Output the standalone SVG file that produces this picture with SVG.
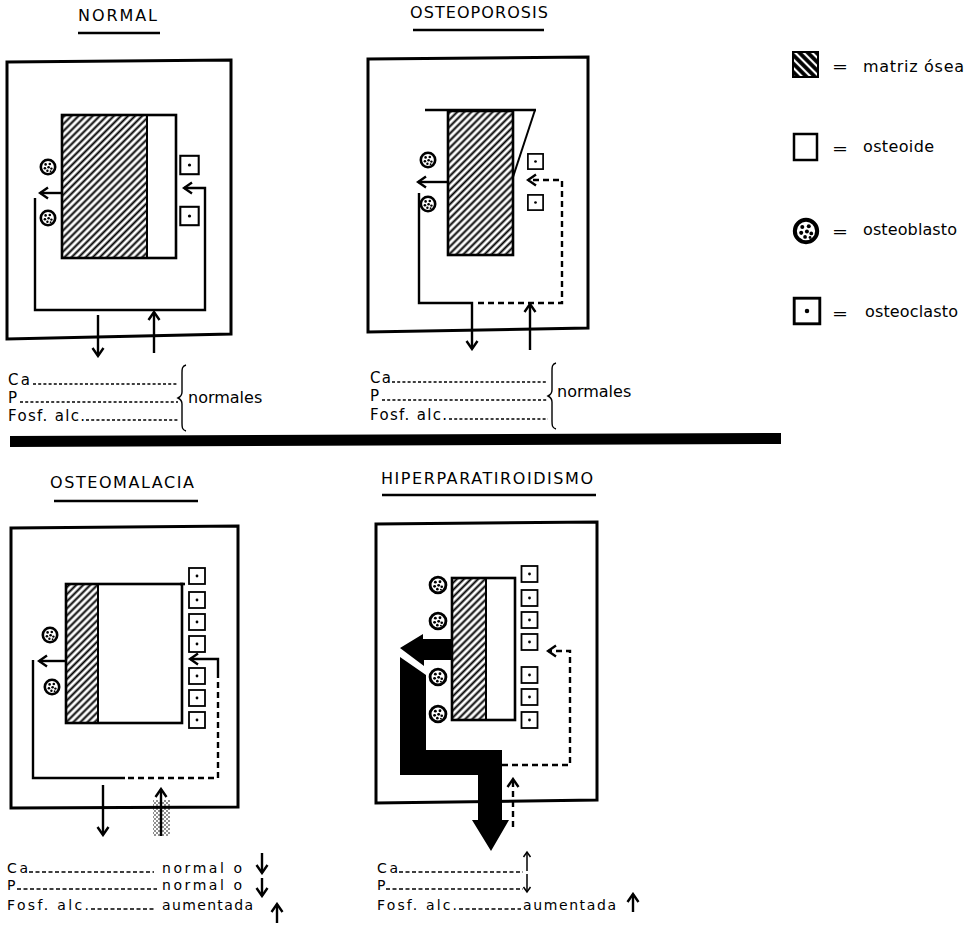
<svg xmlns="http://www.w3.org/2000/svg" width="973" height="925" viewBox="0 0 973 925">
<style>
.t{font-family:"DejaVu Sans",sans-serif;font-size:16px;fill:#000}
.tr{font-family:"DejaVu Sans",sans-serif;font-size:15px;fill:#000}
.tb{font-family:"DejaVu Sans",sans-serif;font-size:14px;fill:#000}
.ti{font-family:"DejaVu Sans",sans-serif;font-size:16px;fill:#000}
.ln{fill:none;stroke:#000;stroke-width:2.4;stroke-linejoin:miter}
.thin{fill:none;stroke:#000;stroke-width:1.5}
.ds{stroke-dasharray:6 4}
.box{fill:none;stroke:#000;stroke-width:3;stroke-linejoin:miter}
.ul{stroke:#000;stroke-width:2.4}
.dot{fill:none;stroke:#000;stroke-width:1.3;stroke-dasharray:3 2.2}
.dot2{fill:none;stroke:#000;stroke-width:1.4;stroke-dasharray:4 2.5}
.bone{fill:url(#hatch)}
.out{fill:none;stroke:#000;stroke-width:2.6}
</style>
<defs>
<pattern id="hatch" patternUnits="userSpaceOnUse" width="5" height="5" patternTransform="rotate(45)">
<rect width="5" height="5" fill="#fff"/>
<line x1="2.5" y1="-1" x2="2.5" y2="6" stroke="#000" stroke-width="2"/>
</pattern>
<pattern id="hatchL" patternUnits="userSpaceOnUse" width="6" height="6" patternTransform="rotate(-45)">
<rect width="6" height="6" fill="#000"/>
<line x1="3" y1="-1" x2="3" y2="7" stroke="#fff" stroke-width="2.2"/>
</pattern>
<pattern id="stip" patternUnits="userSpaceOnUse" width="4" height="4">
<circle cx="1" cy="1" r="0.8" fill="#000"/>
<circle cx="3" cy="3" r="0.8" fill="#000"/>
</pattern>
<marker id="ah" viewBox="-10 -7 12 14" refX="0" refY="0" markerWidth="12" markerHeight="14" markerUnits="userSpaceOnUse" orient="auto">
<path d="M-8,-5.5 L0,0 L-8,5.5" fill="none" stroke="#000" stroke-width="2.4" stroke-dasharray="none"/>
</marker>
<marker id="ahs" viewBox="-7 -5 9 10" refX="0" refY="0" markerWidth="9" markerHeight="10" markerUnits="userSpaceOnUse" orient="auto">
<path d="M-5,-3.5 L0,0 L-5,3.5" fill="none" stroke="#000" stroke-width="1.5" stroke-dasharray="none"/>
</marker>
<g id="ob">
<circle r="7.2" fill="#fff" stroke="#000" stroke-width="2.6"/>
<g fill="#000">
<circle cx="-2.4" cy="-2.6" r="1.3"/><circle cx="1.8" cy="-3" r="1.3"/><circle cx="-3.1" cy="1.2" r="1.3"/>
<circle cx="0.6" cy="0.3" r="1.3"/><circle cx="3.4" cy="1.6" r="1.2"/><circle cx="-0.6" cy="3.8" r="1.2"/><circle cx="2.6" cy="4.2" r="0.9"/>
</g>
</g>
<g id="oc">
<rect x="-8" y="-8" width="16" height="16" fill="#fff" stroke="#000" stroke-width="1.8"/>
<circle r="1.4" fill="#000"/>
</g>
<path id="brace" d="M8,0 C4,1 4,4 4,8 L4,27 C4,30 2,32 0,33 C2,34 4,36 4,39 L4,58 C4,62 4,65 8,66" fill="none" stroke="#000" stroke-width="1.4"/>
</defs>

<rect width="973" height="925" fill="#fff"/>

<!-- ===== NORMAL ===== -->
<g id="normal-title">
<text class="ti" x="78" y="21" textLength="79" lengthAdjust="spacing">NORMAL</text>
<line class="ul" x1="78" y1="33" x2="160" y2="33"/>
</g>
<g id="normal-box"><polygon class="box" points="7,62 231,60 231,334 7,339"/></g>
<g id="normal-bone">
<rect class="bone" x="62" y="115" width="85" height="143"/>
<rect x="147" y="115" width="29" height="143" fill="#fff"/>
<rect class="out" x="62" y="115" width="114" height="143"/>
<line x1="147" y1="115" x2="147" y2="258" stroke="#000" stroke-width="2"/>
</g>
<g id="normal-osteoblasts">
<use href="#ob" transform="translate(48,167)"/>
<use href="#ob" transform="translate(48,218)"/>
</g>
<g id="normal-osteoclasts">
<use href="#oc" transform="translate(189.5,165) scale(1.15)"/>
<use href="#oc" transform="translate(189.5,216) scale(1.15)"/>
</g>
<g id="normal-labels">
<text class="tr" x="8" y="385" textLength="22" lengthAdjust="spacing">Ca</text>
<text class="tr" x="8" y="403">P</text>
<text class="tr" x="8" y="421" textLength="77" lengthAdjust="spacing">Fosf. alc.</text>
<text class="t" x="188" y="403">normales</text>
<line class="dot" x1="33" y1="384" x2="178" y2="384"/>
<line class="dot" x1="20" y1="402" x2="178" y2="402"/>
<line class="dot" x1="86" y1="420" x2="178" y2="420"/>
<use href="#brace" transform="translate(178,365)"/>
</g>

<!-- ===== OSTEOPOROSIS ===== -->
<g id="osteoporosis-title">
<text class="ti" x="410" y="18" textLength="138" lengthAdjust="spacing">OSTEOPOROSIS</text>
<line class="ul" x1="413" y1="30" x2="544" y2="30"/>
</g>
<g id="osteoporosis-box"><polygon class="box" points="368,59 588,57 588,328 368,332"/></g>
<g id="osteoporosis-bone">
<rect class="bone" x="448" y="111" width="65" height="144"/>
<rect class="out" x="448" y="111" width="65" height="144"/>
<line x1="425" y1="110" x2="536" y2="110" stroke="#000" stroke-width="2.6"/>
<line x1="535" y1="110" x2="513" y2="177" stroke="#000" stroke-width="2"/>
</g>
<g id="osteoporosis-osteoblasts">
<use href="#ob" transform="translate(428,160)"/>
<use href="#ob" transform="translate(428,204)"/>
</g>
<g id="osteoporosis-osteoclasts">
<use href="#oc" transform="translate(535.5,161.5) scale(0.95)"/>
<use href="#oc" transform="translate(535.5,202.5) scale(0.95)"/>
</g>
<g id="osteoporosis-labels">
<text class="tr" x="370" y="383" textLength="21" lengthAdjust="spacing">Ca</text>
<text class="tr" x="370" y="401">P</text>
<text class="tr" x="370" y="420" textLength="77" lengthAdjust="spacing">Fosf. alc.</text>
<text class="t" x="557" y="397">normales</text>
<line class="dot" x1="392" y1="382" x2="548" y2="382"/>
<line class="dot" x1="382" y1="400" x2="548" y2="400"/>
<line class="dot" x1="449" y1="419" x2="548" y2="419"/>
<use href="#brace" transform="translate(548,363)"/>
</g>

<!-- ===== SEPARATOR ===== -->
<g id="separator"><polygon points="10,436 781,433 781,444 10,447" fill="#000"/></g>

<!-- ===== LEGEND ===== -->
<g id="legend-matriz">
<rect x="793" y="52" width="25" height="25" fill="url(#hatchL)" stroke="#000" stroke-width="2"/>
<text class="t" x="832" y="71.5" font-size="18" textLength="16" lengthAdjust="spacingAndGlyphs">=</text>
<text class="t" x="863" y="72" textLength="101" lengthAdjust="spacing">matriz ósea</text>
</g>
<g id="legend-osteoide">
<rect x="794" y="134" width="23" height="26" fill="#fff" stroke="#000" stroke-width="2.5"/>
<text class="t" x="832" y="154" font-size="18" textLength="16" lengthAdjust="spacingAndGlyphs">=</text>
<text class="t" x="863" y="152" textLength="71" lengthAdjust="spacing">osteoide</text>
</g>
<g id="legend-osteoblasto">
<use href="#ob" transform="translate(806,231) scale(1.55)"/>
<text class="t" x="832" y="237" font-size="18" textLength="16" lengthAdjust="spacingAndGlyphs">=</text>
<text class="t" x="863" y="235" textLength="94" lengthAdjust="spacing">osteoblasto</text>
</g>
<g id="legend-osteoclasto">
<use href="#oc" transform="translate(807,311) scale(1.6)"/>
<text class="t" x="832" y="319" font-size="18" textLength="16" lengthAdjust="spacingAndGlyphs">=</text>
<text class="t" x="865" y="317" textLength="93" lengthAdjust="spacing">osteoclasto</text>
</g>

<!-- ===== OSTEOMALACIA ===== -->
<g id="osteomalacia-title">
<text class="ti" x="50" y="488" textLength="144" lengthAdjust="spacing">OSTEOMALACIA</text>
<line class="ul" x1="54" y1="501" x2="198" y2="501"/>
</g>
<g id="osteomalacia-box"><polygon class="box" points="11,528 238,526 238,807 11,808"/></g>
<g id="osteomalacia-bone">
<rect class="bone" x="66" y="584" width="32" height="139"/>
<rect x="98" y="584" width="84" height="139" fill="#fff"/>
<rect class="out" x="66" y="584" width="116" height="139"/>
<line x1="98" y1="584" x2="98" y2="723" stroke="#000" stroke-width="2"/>
<line x1="180" y1="584" x2="185" y2="584" stroke="#000" stroke-width="2.6"/>
</g>
<g id="osteomalacia-osteoblasts">
<use href="#ob" transform="translate(50,635)"/>
<use href="#ob" transform="translate(52,687)"/>
</g>
<g id="osteomalacia-osteoclasts">
<use href="#oc" transform="translate(197,576)"/>
<use href="#oc" transform="translate(197,600)"/>
<use href="#oc" transform="translate(197,622)"/>
<use href="#oc" transform="translate(197,644)"/>
<use href="#oc" transform="translate(197,676)"/>
<use href="#oc" transform="translate(197,698)"/>
<use href="#oc" transform="translate(197,720)"/>
</g>
<g id="osteomalacia-stipple"><rect x="153" y="800" width="17" height="36" fill="url(#stip)"/></g>
<g id="osteomalacia-labels">
<text class="tb" x="7" y="873" textLength="21" lengthAdjust="spacing">Ca</text>
<text class="tb" x="7" y="890">P</text>
<text class="tb" x="7" y="910" textLength="82" lengthAdjust="spacing">Fosf. alc.</text>
<text class="tb" x="162" y="873" textLength="80" lengthAdjust="spacing">normal o</text>
<text class="tb" x="162" y="890" textLength="80" lengthAdjust="spacing">normal o</text>
<text class="tb" x="162" y="910" textLength="91" lengthAdjust="spacing">aumentada</text>
<line class="dot2" x1="29" y1="872" x2="154" y2="872"/>
<line class="dot2" x1="17" y1="889" x2="157" y2="889"/>
<line class="dot2" x1="91" y1="909" x2="156" y2="909"/>
</g>

<!-- ===== HIPERPARATIROIDISMO ===== -->
<g id="hiper-title">
<text class="ti" x="381" y="484" textLength="212" lengthAdjust="spacing">HIPERPARATIROIDISMO</text>
<line class="ul" x1="382" y1="495" x2="596" y2="495"/>
</g>
<g id="hiper-box"><polygon class="box" points="376,524 597,522 597,800 376,803"/></g>
<g id="hiper-bone">
<rect class="bone" x="452" y="578" width="34" height="142"/>
<rect x="486" y="578" width="29" height="142" fill="#fff"/>
<rect class="out" x="452" y="578" width="63" height="142"/>
<line x1="486" y1="578" x2="486" y2="720" stroke="#000" stroke-width="2"/>
</g>
<g id="hiper-osteoblasts">
<use href="#ob" transform="translate(438,585) scale(1.1)"/>
<use href="#ob" transform="translate(438,621) scale(1.1)"/>
<use href="#ob" transform="translate(438,677) scale(1.1)"/>
<use href="#ob" transform="translate(438,714) scale(1.1)"/>
</g>
<g id="hiper-osteoclasts">
<use href="#oc" transform="translate(529.5,574)"/>
<use href="#oc" transform="translate(529.5,598)"/>
<use href="#oc" transform="translate(529.5,620)"/>
<use href="#oc" transform="translate(529.5,642)"/>
<use href="#oc" transform="translate(529.5,675)"/>
<use href="#oc" transform="translate(529.5,697)"/>
<use href="#oc" transform="translate(529.5,720)"/>
</g>
<g id="hiper-labels">
<text class="tb" x="377" y="873" textLength="21" lengthAdjust="spacing">Ca</text>
<text class="tb" x="377" y="890">P</text>
<text class="tb" x="377" y="910" textLength="80" lengthAdjust="spacing">Fosf. alc.</text>
<text class="tb" x="523" y="910" textLength="93" lengthAdjust="spacing">aumentada</text>
<line class="dot2" x1="399" y1="872" x2="523" y2="872"/>
<line class="dot2" x1="386" y1="889" x2="523" y2="889"/>
<line class="dot2" x1="459" y1="909" x2="521" y2="909"/>
</g>

<!-- ===== CONNECTORS ===== -->
<g id="connectors">
<path class="ln" d="M62,193 H40" marker-end="url(#ah)"/>
<path class="ln" d="M35,198 V310 H205 V188 H184" marker-end="url(#ah)"/>
<path class="ln" d="M98,315 V356" marker-end="url(#ah)"/>
<path class="ln" d="M154,353 V312" marker-end="url(#ah)"/>
<path class="ln" d="M448,182 H418" marker-end="url(#ah)"/>
<path class="ln" d="M419,193 V303 H472 V349" marker-end="url(#ah)"/>
<path class="ln ds" d="M478,303 H562 V180 H528" marker-end="url(#ah)"/>
<path class="ln" d="M530,350 V304" marker-end="url(#ah)"/>
<path class="ln" d="M66,661 H39" marker-end="url(#ah)"/>
<path class="ln" d="M33,660 V778 H125"/>
<path class="ln ds" d="M128,778 H218 V672"/>
<path class="ln" d="M218,672 V659 H190" marker-end="url(#ah)"/>
<path class="ln" d="M103,785 V835" marker-end="url(#ah)"/>
<path class="ln" d="M161,836 V789" marker-end="url(#ah)"/>
<path class="ln" d="M262,853 V873" marker-end="url(#ah)"/>
<path class="ln" d="M262,878 V896" marker-end="url(#ah)"/>
<path class="ln" d="M277,923 V904" marker-end="url(#ah)"/>
<path d="M400,648 L423,634 L423,639 L452,639 L452,660 L424,660 L424,666 Z" fill="#000"/>
<path d="M400,657 L426,675 L426,750 L502,750 L502,820 L509,820 L491,851 L472,820 L478,820 L478,775 L400,775 Z" fill="#000"/>
<path class="ln ds" d="M502,765 H570 V651 H548" marker-end="url(#ah)"/>
<path class="ln ds" d="M513,827 V779" marker-end="url(#ah)"/>
<path class="thin" d="M527,871 V852" marker-end="url(#ahs)"/>
<path class="thin" d="M527,874 V892" marker-end="url(#ahs)"/>
<path class="ln" d="M633,912 V894" marker-end="url(#ah)"/>
</g>
</svg>
